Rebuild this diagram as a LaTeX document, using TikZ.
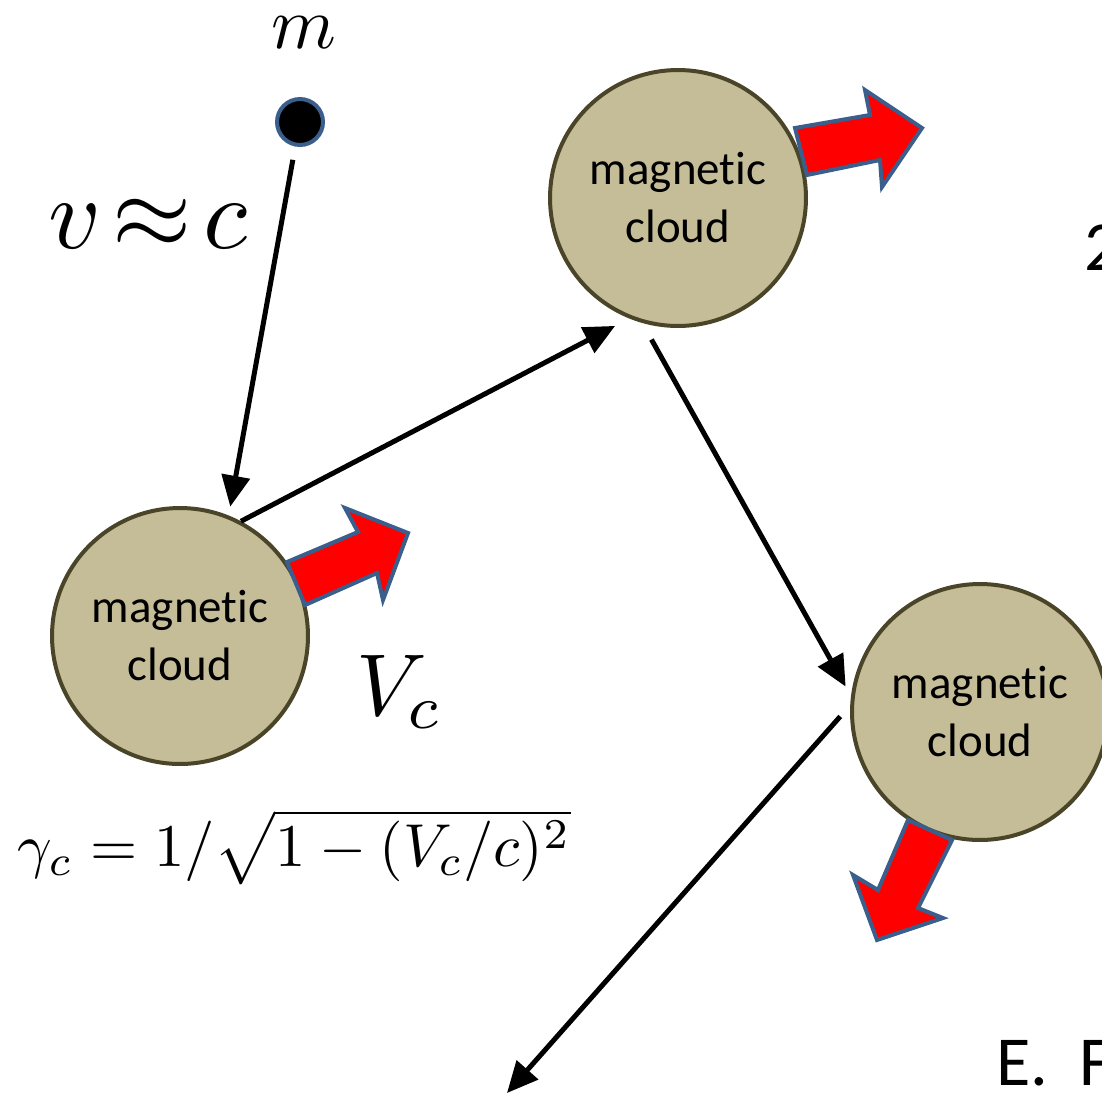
\documentclass[tikz,border=0pt]{standalone}
\usepackage{fontspec}
\newfontfamily\cloudfont[Ligatures=NoCommon]{Carlito}
\usetikzlibrary{arrows.meta,positioning}
\definecolor{cloudfill}{HTML}{C4BD97}
\definecolor{clouddraw}{HTML}{4A4428}
\definecolor{arrowedge}{HTML}{3A5F8C}
\tikzset{
  magcloud/.style={circle, draw=clouddraw, fill=cloudfill, line width=0.08cm, minimum size=5.12cm, inner sep=0pt, align=center, font=\cloudfont\fontsize{26.7}{33}\selectfont},
  particle/.style={circle, draw=arrowedge, fill=black, line width=0.08cm, minimum size=0.92cm, inner sep=0pt},
  flow/.style={-{Triangle[length=0.62cm,width=0.56cm]}, line width=0.1cm},
  push/.style={draw=arrowedge, fill=red, line width=0.08cm, line join=miter},
  sym/.style={inner sep=0pt},
  note/.style={inner sep=0pt, anchor=base west, font=\cloudfont\fontsize{40}{48}\selectfont}
}
\begin{document}
\begin{tikzpicture}[x=0.02cm, y=-0.02cm]
\useasboundingbox (0,0) rectangle (1102,1096);
% clouds and the particle
\node[magcloud] (c1) at (180,636) {magnetic\\cloud};
\node[magcloud] (c2) at (678,198) {magnetic\\cloud};
\node[magcloud] (c3) at (980,712) {magnetic\\cloud};
\node[particle] (dot) at (300,122) {};
\node[sym, scale=4.2] (mass) at (304,33) {$m$};
\coordinate (exit) at (507,1093);
% labels
\node[sym, scale=5.8] (speed) at (148,224) {$v\mkern2mu{\approx}\mkern2mu c$};
\node[sym, scale=5] (vcloud) at (400,692) {$V_c$};
\node[sym, scale=3.45] (gamma) at (294,847) {$\gamma_c = 1/\sqrt{1-(V_c/c)^2}$};
\node[note] (order) at (1084,270) {2};
\node[note] (cite) at (996,1085) {E.\hspace{0.45em}F};
% path of the particle
\draw[flow, shorten <=0.27cm, shorten >=0.18cm] (dot.259.6) -- (c1.68);
\draw[flow, shorten >=0.32cm] (c1.62.6) -- (c2.248.7);
\draw[flow, shorten <=0.38cm, shorten >=0.22cm] (c2.254.5) -- (c3.173.9);
\draw[flow, shorten <=0.3cm] (c3.177.2) -- (exit);
% cloud velocities
\draw[push] (287,562) -- (358,532) -- (345,508) -- (408,533) -- (383,600) -- (377,573) -- (305,605) -- cycle;
\draw[push] (795,128) -- (870,115) -- (865,90) -- (922,128) -- (882,187) -- (880,160) -- (807,175) -- cycle;
\draw[push] (908,820) -- (952,840) -- (918,908) -- (943,918) -- (877,940) -- (853,875) -- (878,890) -- cycle;
\end{tikzpicture}
\end{document}
